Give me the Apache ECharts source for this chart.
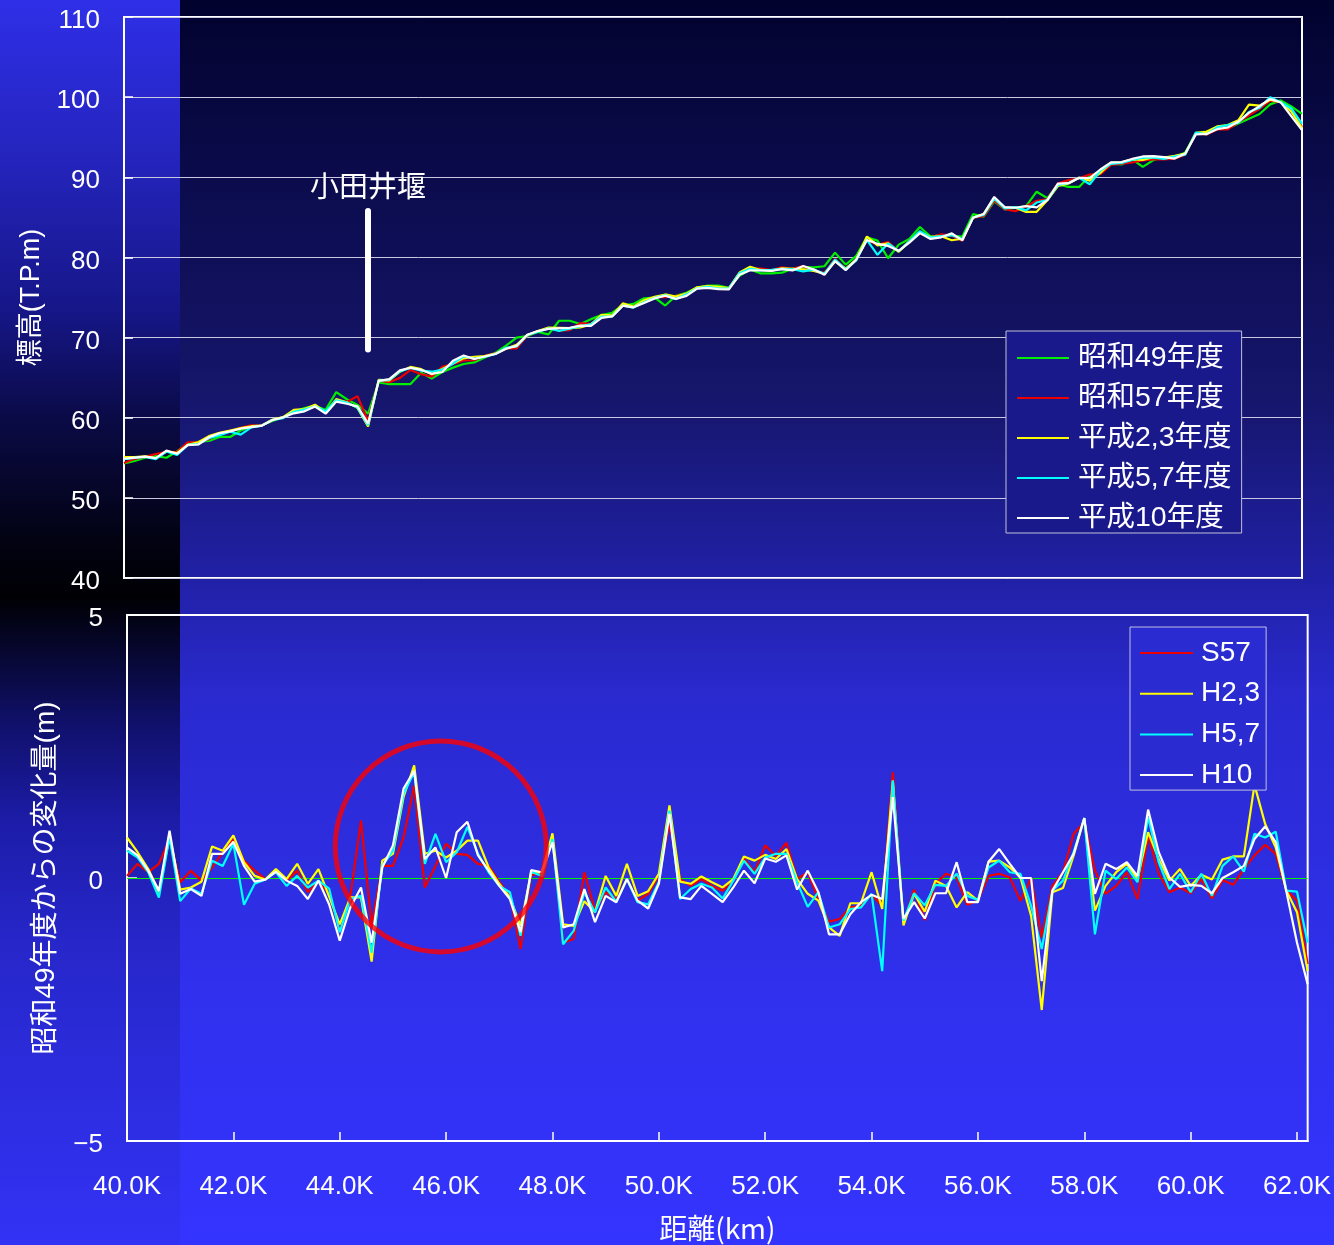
<!DOCTYPE html>
<html>
<head>
<meta charset="utf-8">
<title>距離別 河床高</title>
<script src="https://cdn.jsdelivr.net/npm/echarts@6/dist/echarts.min.js"></script>
<style>
  html, body { margin: 0; padding: 0; background: #000030; }
  #chart { width: 1334px; height: 1245px; }
</style>
</head>
<body>
<div id="chart"></div>
<script>
// 距離 (km), 200 m pitch
const distanceKm = [
  40.0, 40.2, 40.4, 40.6, 40.8, 41.0, 41.2, 41.4, 41.6, 41.8,
  42.0, 42.2, 42.4, 42.6, 42.8, 43.0, 43.2, 43.4, 43.6, 43.8,
  44.0, 44.2, 44.4, 44.6, 44.8, 45.0, 45.2, 45.4, 45.6, 45.8,
  46.0, 46.2, 46.4, 46.6, 46.8, 47.0, 47.2, 47.4, 47.6, 47.8,
  48.0, 48.2, 48.4, 48.6, 48.8, 49.0, 49.2, 49.4, 49.6, 49.8,
  50.0, 50.2, 50.4, 50.6, 50.8, 51.0, 51.2, 51.4, 51.6, 51.8,
  52.0, 52.2, 52.4, 52.6, 52.8, 53.0, 53.2, 53.4, 53.6, 53.8,
  54.0, 54.2, 54.4, 54.6, 54.8, 55.0, 55.2, 55.4, 55.6, 55.8,
  56.0, 56.2, 56.4, 56.6, 56.8, 57.0, 57.2, 57.4, 57.6, 57.8,
  58.0, 58.2, 58.4, 58.6, 58.8, 59.0, 59.2, 59.4, 59.6, 59.8,
  60.0, 60.2, 60.4, 60.6, 60.8, 61.0, 61.2, 61.4, 61.6, 61.8,
  62.0, 62.2
];

// 昭和49年度 河床高 (T.P.m)
const elevS49 = [
  54.3, 54.6, 55.0, 55.2, 55.0, 55.8, 56.8, 57.0, 57.1, 57.6,
  57.6, 58.4, 58.9, 59.05, 59.6, 60.1, 60.7, 61.2, 61.45, 61.0,
  63.2, 62.3, 61.6, 60.5, 64.4, 64.2, 64.2, 64.2, 65.6, 64.9,
  65.7, 66.25, 66.7, 66.9, 67.5, 68.1, 69.0, 70.0, 70.2, 70.7,
  70.4, 72.1, 72.1, 71.7, 72.3, 72.8, 73.1, 74.0, 74.2, 74.9,
  75.0, 74.0, 75.2, 75.6, 76.25, 76.5, 76.5, 76.2, 77.7, 78.5,
  78.0, 78.0, 78.1, 78.6, 78.8, 78.75, 78.9, 80.6, 79.1, 80.2,
  82.5, 82.1, 79.9, 81.6, 82.3, 83.8, 82.6, 82.8, 82.7, 82.6,
  85.4, 85.1, 87.0, 86.0, 86.2, 86.4, 88.2, 87.4, 89.1, 88.8,
  88.8, 90.2, 90.7, 91.7, 91.6, 92.25, 91.3, 92.15, 92.5, 92.5,
  93.1, 95.5, 95.7, 96.0, 96.1, 96.7, 97.3, 97.9, 99.1, 99.6,
  98.85, 97.9
];

// 昭和49年度からの変化量 (m)
const diffS57 = [
  0.04, 0.27, 0.11, 0.27, 0.74, -0.08, 0.14, -0.05, 0.20, 0.49,
  0.74, 0.33, 0.14, -0.02, 0.11, -0.05, 0.14, -0.27, -0.05, -0.30,
  -1.00, -0.34, 1.09, -0.91, 0.23, 0.23, 0.77, 1.76, -0.18, 0.23,
  0.65, 0.46, 0.44, 0.27, 0.23, -0.08, -0.34, -1.35, 0.05, 0.11,
  0.80, -1.23, -1.16, 0.11, -0.62, -0.27, -0.40, -0.02, -0.43, -0.30,
  0.05, 1.03, -0.02, -0.15, -0.02, -0.15, -0.24, -0.05, 0.37, 0.11,
  0.62, 0.42, 0.67, -0.02, 0.11, -0.40, -0.83, -0.78, -0.56, -0.53,
  -0.32, -0.53, 2.01, -0.84, -0.22, -0.80, -0.11, 0.08, 0.01, -0.51,
  -0.43, 0.04, 0.08, 0.01, -0.44, 0.00, -1.13, -0.15, 0.11, 0.84,
  1.06, 0.14, -0.30, -0.15, 0.11, -0.40, 0.81, 0.08, -0.27, -0.18,
  -0.29, -0.02, -0.39, -0.04, -0.13, 0.17, 0.43, 0.63, 0.46, -0.24,
  -0.43, -1.64
];
const diffH23 = [
  0.77, 0.49, 0.17, -0.27, 0.81, -0.22, -0.18, -0.07, 0.60, 0.52,
  0.81, 0.30, 0.04, -0.03, 0.17, -0.02, 0.27, -0.11, 0.17, -0.35,
  -0.88, -0.37, -0.37, -1.59, 0.33, 0.46, 1.54, 2.14, 0.46, 0.52,
  0.39, 0.52, 0.71, 0.71, 0.20, -0.11, -0.37, -0.91, 0.10, 0.11,
  0.85, -0.88, -0.91, -0.44, -0.65, 0.04, -0.34, 0.27, -0.34, -0.25,
  0.08, 1.38, -0.07, -0.11, 0.03, -0.08, -0.18, -0.02, 0.41, 0.33,
  0.44, 0.36, 0.55, -0.02, -0.30, -0.43, -0.94, -1.10, -0.48, -0.48,
  0.11, -0.59, 1.85, -0.90, -0.30, -0.64, -0.05, -0.15, -0.56, -0.27,
  -0.43, 0.31, 0.33, 0.20, 0.01, -0.72, -2.51, -0.27, -0.19, 0.43,
  1.14, -0.62, -0.15, 0.11, 0.27, -0.02, 0.87, 0.36, -0.05, 0.17,
  -0.15, 0.06, -0.03, 0.35, 0.41, 0.41, 1.77, 1.03, 0.58, -0.24,
  -0.65, -1.77
];
const diffH57 = [
  0.52, 0.39, 0.11, -0.37, 0.78, -0.44, -0.20, -0.30, 0.33, 0.23,
  0.65, -0.51, -0.11, -0.03, 0.11, -0.15, 0.04, -0.18, -0.05, -0.20,
  -1.03, -0.40, -0.34, -1.42, 0.23, 0.52, 1.60, 2.01, 0.27, 0.84,
  0.30, 0.49, 0.97, 0.46, 0.11, -0.15, -0.27, -1.10, 0.12, 0.04,
  0.74, -1.26, -1.00, -0.27, -0.65, -0.18, -0.45, -0.02, -0.46, -0.50,
  -0.08, 1.28, -0.40, -0.21, -0.11, -0.18, -0.39, -0.05, 0.33, 0.08,
  0.39, 0.46, 0.46, -0.08, -0.55, -0.27, -0.94, -0.88, -0.59, -0.56,
  -0.30, -1.77, 1.85, -0.81, -0.29, -0.52, -0.13, -0.15, 0.08, -0.34,
  -0.42, 0.20, 0.33, 0.11, 0.08, -0.53, -1.35, -0.24, -0.05, 0.49,
  1.14, -1.07, 0.14, -0.02, 0.20, -0.08, 1.16, 0.30, -0.21, 0.08,
  -0.27, 0.08, -0.34, 0.23, 0.41, 0.12, 0.84, 0.77, 0.88, -0.24,
  -0.26, -1.23
];
const diffH10 = [
  0.58, 0.43, 0.14, -0.24, 0.90, -0.30, -0.21, -0.34, 0.46, 0.46,
  0.69, 0.23, -0.07, -0.03, 0.12, -0.05, -0.15, -0.40, -0.05, -0.50,
  -1.19, -0.56, -0.18, -1.23, 0.20, 0.62, 1.70, 2.04, 0.36, 0.58,
  0.00, 0.87, 1.07, 0.43, 0.14, -0.15, -0.40, -1.03, 0.15, 0.11,
  0.68, -0.94, -0.88, -0.21, -0.84, -0.34, -0.46, -0.02, -0.43, -0.58,
  -0.11, 1.22, -0.37, -0.40, -0.15, -0.30, -0.46, -0.18, 0.14, -0.10,
  0.37, 0.31, 0.43, -0.22, 0.14, -0.27, -1.07, -1.07, -0.69, -0.46,
  -0.32, -0.40, 1.54, -0.78, -0.46, -0.77, -0.29, -0.29, 0.30, -0.46,
  -0.46, 0.31, 0.55, 0.27, 0.00, 0.00, -1.96, -0.24, 0.11, 0.46,
  1.14, -0.30, 0.27, 0.17, 0.30, 0.04, 1.30, 0.49, 0.01, -0.17,
  -0.13, -0.15, -0.29, 0.00, 0.11, 0.23, 0.74, 0.98, 0.68, -0.26,
  -1.23, -2.02
];

// Axis tick values
const elevTicks = [40, 50, 60, 70, 80, 90, 100, 110];
const diffTicks = [-5, 0, 5];
const kmTicks = [40, 42, 44, 46, 48, 50, 52, 54, 56, 58, 60, 62];

// 小田井堰 position (km) and marker extent (T.P.m)
const weirKm = 44.6;
const weirSpan = [68.5, 85.8];
// highlighted reach (km, m)
const focusCenter = [45.9, 0.6];

// Elevation of each survey = 昭和49年度 + change
const addTo49 = d => elevS49.map((v, i) => +(v + d[i]).toFixed(2));
const pairs = arr => arr.map((v, i) => [distanceKm[i], v]);

const COLORS = {
  s49: '#00ee00',
  s57: '#ee0000',
  h23: '#ffff00',
  h57: '#00ffff',
  h10: '#ffffff'
};

const NUM_FONT = "'Liberation Sans', Arial, sans-serif";
const JP_FONT = "'Liberation Sans', 'Noto Sans CJK JP', sans-serif";
const LW = 2.2;

// y tick labels sit a little below their tick
const yLabelRich = {
  v: { color: '#ffffff', fontSize: 26, fontFamily: NUM_FONT, padding: [8, 0, 0, 0] }
};

const chart = echarts.init(document.getElementById('chart'), null, { renderer: 'canvas' });

const lineBase = {
  type: 'line',
  showSymbol: false,
  symbol: 'none',
  emphasis: { disabled: true },
  animation: false
};

const option = {
  animation: false,
  graphic: [
    {
      type: 'rect', silent: true, z: -20,
      shape: { x: 0, y: 0, width: 1334, height: 1245 },
      style: {
        fill: new echarts.graphic.LinearGradient(0, 0, 0, 1, [
          { offset: 0, color: '#02022e' },
          { offset: 0.16, color: '#0c0c50' },
          { offset: 0.32, color: '#16166c' },
          { offset: 0.46, color: '#2020a4' },
          { offset: 0.56, color: '#2a2ad0' },
          { offset: 0.8, color: '#3030ee' },
          { offset: 1, color: '#3434ff' }
        ])
      }
    },
    {
      type: 'rect', silent: true, z: -19,
      shape: { x: 0, y: 0, width: 180, height: 1245 },
      style: {
        fill: new echarts.graphic.LinearGradient(0, 0, 0, 1, [
          { offset: 0, color: '#2f2fe8' },
          { offset: 0.13, color: '#2424bc' },
          { offset: 0.25, color: '#161688' },
          { offset: 0.34, color: '#0a0a44' },
          { offset: 0.44, color: '#020210' },
          { offset: 0.48, color: '#000004' },
          { offset: 0.58, color: '#10106a' },
          { offset: 0.66, color: '#1c1ca8' },
          { offset: 0.75, color: '#2626c8' },
          { offset: 0.88, color: '#2d2de0' },
          { offset: 1, color: '#3232f5' }
        ])
      }
    }
  ],
  legend: [
    {
      data: ['昭和49年度', '昭和57年度', '平成2,3年度', '平成5,7年度', '平成10年度'],
      orient: 'vertical',
      left: 1006, top: 331,
      padding: [12, 10, 0, 11],
      itemGap: 10,
      itemWidth: 52, itemHeight: 2,
      icon: 'rect',
      backgroundColor: '#19198c',
      borderColor: '#c0c0d8', borderWidth: 1,
      selectedMode: false,
      textStyle: { color: '#ffffff', fontSize: 28.5, fontFamily: JP_FONT, lineHeight: 30, padding: [0, 0, 0, 4] }
    },
    {
      data: ['S57', 'H2,3', 'H5,7', 'H10'],
      orient: 'vertical',
      left: 1130, top: 627,
      padding: [11, 6, 0, 10],
      itemGap: 10.7,
      itemWidth: 53, itemHeight: 2,
      icon: 'rect',
      backgroundColor: '#2b2bd2',
      borderColor: '#c0c0e0', borderWidth: 1,
      selectedMode: false,
      textStyle: { color: '#ffffff', fontSize: 28, fontFamily: NUM_FONT, lineHeight: 30, padding: [0, 0, 0, 3] }
    }
  ],
  grid: [
    {
      left: 124, top: 17, width: 1178, height: 561,
      show: true, borderColor: '#ffffff', borderWidth: 2, backgroundColor: 'transparent',
      containLabel: false
    },
    {
      left: 127, top: 615, width: 1181, height: 526,
      show: true, borderColor: '#ffffff', borderWidth: 2, backgroundColor: 'transparent',
      containLabel: false
    }
  ],
  xAxis: [
    {
      gridIndex: 0, type: 'value', min: 40, max: 62.2, interval: 2,
      axisLine: { show: false, onZero: false }, axisTick: { show: false }, axisLabel: { show: false },
      splitLine: { show: false }
    },
    {
      gridIndex: 1, type: 'value', min: 40, max: 62.2, interval: 2,
      name: '距離(km)', nameLocation: 'middle', nameGap: 73,
      nameTextStyle: { color: '#ffffff', fontSize: 28, fontFamily: "'Noto Sans CJK JP', sans-serif" },
      axisLine: { show: true, onZero: false, lineStyle: { color: '#ffffff', width: 2 } },
      axisTick: {
        show: true, inside: true, length: 9, lineStyle: { color: '#ffffff', width: 1.5 },
        customValues: kmTicks
      },
      axisLabel: {
        color: '#ffffff', fontSize: 26, fontFamily: NUM_FONT, margin: 33,
        customValues: kmTicks,
        formatter: v => v.toFixed(1) + 'K'
      },
      splitLine: { show: false }
    }
  ],
  yAxis: [
    {
      gridIndex: 0, type: 'value', min: 40, max: 110, interval: 10,
      name: '標高(T.P.m)', nameLocation: 'middle', nameGap: 79, nameRotate: 90,
      nameTextStyle: { color: '#ffffff', fontSize: 27, fontFamily: JP_FONT },
      axisLine: { show: true, lineStyle: { color: '#ffffff', width: 2 } },
      axisTick: { show: true, inside: true, length: 9, lineStyle: { color: '#ffffff', width: 1.5 } },
      axisLabel: {
        margin: 24,
        customValues: elevTicks,
        formatter: v => '{v|' + v + '}',
        rich: yLabelRich
      },
      splitLine: { show: true, lineStyle: { color: '#c8c8e0', width: 1 } }
    },
    {
      gridIndex: 1, type: 'value', min: -5, max: 5, interval: 5,
      name: '昭和49年度からの変化量(m)', nameLocation: 'middle', nameGap: 67, nameRotate: 90,
      nameTextStyle: { color: '#ffffff', fontSize: 28, fontFamily: JP_FONT },
      axisLine: { show: true, lineStyle: { color: '#ffffff', width: 2 } },
      axisTick: { show: true, inside: true, length: 10, lineStyle: { color: '#ffffff', width: 1.5 } },
      axisLabel: {
        margin: 24,
        customValues: diffTicks,
        formatter: v => '{v|' + (v < 0 ? '\u2212' + Math.abs(v) : String(v)) + '}',
        rich: yLabelRich
      },
      splitLine: { show: false }
    }
  ],
  series: [
    // 標高 (upper panel)
    Object.assign({}, lineBase, {
      name: '昭和49年度', xAxisIndex: 0, yAxisIndex: 0,
      data: pairs(elevS49), color: COLORS.s49, lineStyle: { width: LW, color: COLORS.s49 }
    }),
    Object.assign({}, lineBase, {
      name: '昭和57年度', xAxisIndex: 0, yAxisIndex: 0,
      data: pairs(addTo49(diffS57)), color: COLORS.s57, lineStyle: { width: LW, color: COLORS.s57 }
    }),
    Object.assign({}, lineBase, {
      name: '平成2,3年度', xAxisIndex: 0, yAxisIndex: 0,
      data: pairs(addTo49(diffH23)), color: COLORS.h23, lineStyle: { width: LW, color: COLORS.h23 }
    }),
    Object.assign({}, lineBase, {
      name: '平成5,7年度', xAxisIndex: 0, yAxisIndex: 0,
      data: pairs(addTo49(diffH57)), color: COLORS.h57, lineStyle: { width: LW, color: COLORS.h57 }
    }),
    Object.assign({}, lineBase, {
      name: '平成10年度', xAxisIndex: 0, yAxisIndex: 0,
      data: pairs(addTo49(diffH10)), color: COLORS.h10, lineStyle: { width: LW, color: COLORS.h10 },
      markLine: {
        silent: true, symbol: ['none', 'none'], animation: false,
        lineStyle: { color: '#ffffff', width: 6, type: 'solid', cap: 'round' },
        label: {
          show: true, position: 'end', distance: 10, formatter: '小田井堰',
          color: '#ffffff', fontSize: 29, fontFamily: "'Noto Sans CJK JP', sans-serif"
        },
        data: [[{ coord: [weirKm, weirSpan[0]] }, { coord: [weirKm, weirSpan[1]] }]]
      }
    }),
    // 変化量 (lower panel)
    Object.assign({}, lineBase, {
      name: 'S57', xAxisIndex: 1, yAxisIndex: 1, z: 3,
      data: pairs(diffS57), color: COLORS.s57, lineStyle: { width: LW, color: COLORS.s57 },
      markLine: {
        silent: true, symbol: ['none', 'none'], animation: false, z: 1,
        lineStyle: { color: '#00ee00', width: 1, type: 'solid' },
        label: { show: false },
        data: [{ yAxis: 0 }]
      }
    }),
    Object.assign({}, lineBase, {
      name: 'H2,3', xAxisIndex: 1, yAxisIndex: 1, z: 3,
      data: pairs(diffH23), color: COLORS.h23, lineStyle: { width: LW, color: COLORS.h23 }
    }),
    Object.assign({}, lineBase, {
      name: 'H5,7', xAxisIndex: 1, yAxisIndex: 1, z: 3,
      data: pairs(diffH57), color: COLORS.h57, lineStyle: { width: LW, color: COLORS.h57 }
    }),
    Object.assign({}, lineBase, {
      name: 'H10', xAxisIndex: 1, yAxisIndex: 1, z: 3,
      data: pairs(diffH10), color: COLORS.h10, lineStyle: { width: LW, color: COLORS.h10 }
    }),
    {
      type: 'scatter', name: 'focus', xAxisIndex: 1, yAxisIndex: 1, z: 5,
      silent: true, animation: false,
      symbol: 'circle', symbolSize: 211,
      itemStyle: { color: 'rgba(0,0,0,0)', borderColor: '#ff0000', borderWidth: 5 },
      data: [focusCenter]
    }
  ]
};

chart.setOption(option);
</script>
</body>
</html>
